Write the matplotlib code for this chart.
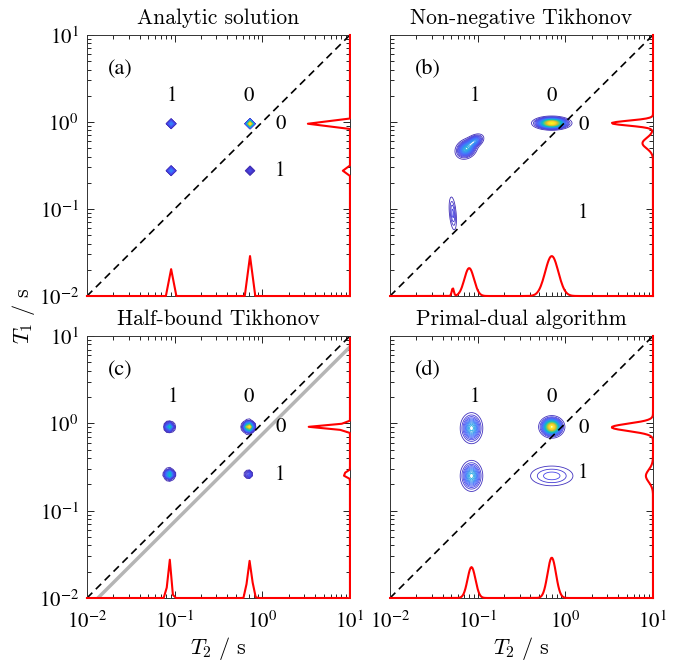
import numpy as np
import matplotlib.pyplot as plt
from matplotlib.colors import LinearSegmentedColormap
from matplotlib.ticker import LogLocator, NullFormatter, FixedLocator

plt.rcParams['mathtext.fontset'] = 'stix'

# approximate MATLAB parula colormap
parula = LinearSegmentedColormap.from_list('parula', [
    (0.2422, 0.1504, 0.6603), (0.2803, 0.2782, 0.9221), (0.2440, 0.4358, 0.9988),
    (0.1540, 0.5902, 0.9218), (0.0297, 0.7082, 0.8163), (0.1938, 0.7758, 0.6251),
    (0.5044, 0.7993, 0.3480), (0.8634, 0.7406, 0.1596), (0.9892, 0.8136, 0.1885),
    (0.9763, 0.9831, 0.0538)])

titles = ['Analytic solution', 'Non-negative Tikhonov',
          'Half-bound Tikhonov', 'Primal-dual algorithm']
tags = ['(a)', '(b)', '(c)', '(d)']

# ---- 2D peaks: T2 centre (s), T1 centre (s), rel. amplitude, widths (decades), tilt (deg)
a_t2 = [0.092, 0.092, 0.72, 0.72]
a_t1 = [0.94, 0.26, 0.94, 0.26]
a_amp = [0.30, 0.30, 1.00, 0.12]

b_t2 = [0.70, 0.074, 0.092, 0.052]
b_t1 = [0.97, 0.49, 0.60, 0.089]
b_amp = [1.00, 0.40, 0.30, 0.11]
b_sx = [0.085, 0.058, 0.052, 0.022]
b_sy = [0.030, 0.046, 0.032, 0.110]
b_tilt = [0, 35, 30, 5]

c_t2 = [0.087, 0.087, 0.70, 0.70]
c_t1 = [0.91, 0.26, 0.91, 0.26]
c_amp = [0.52, 0.56, 1.00, 0.22]
c_sx = [0.024, 0.026, 0.028, 0.020]
c_sy = [0.024, 0.026, 0.028, 0.020]

d_t2 = [0.085, 0.085, 0.70, 0.70]
d_t1 = [0.88, 0.25, 0.91, 0.25]
d_amp = [0.42, 0.42, 1.00, 0.13]
d_sx = [0.058, 0.058, 0.058, 0.150]
d_sy = [0.080, 0.080, 0.050, 0.070]

# ---- marginal projections: centre (s), height (axes fraction), width (decades)
a_bot_c, a_bot_h, a_bot_w = [0.092, 0.72], [0.103, 0.153], [0.0, 0.0]
a_rgt_c, a_rgt_h, a_rgt_w = [0.94, 0.26], [0.160, 0.027], [0.0, 0.0]
b_bot_c, b_bot_h, b_bot_w = [0.052, 0.080, 0.70], [0.030, 0.107, 0.153], [0.012, 0.055, 0.075]
b_rgt_c, b_rgt_h, b_rgt_w = [0.97, 0.57], [0.157, 0.040], [0.028, 0.060]
c_bot_c, c_bot_h, c_bot_w = [0.087, 0.70, 0.76], [0.153, 0.140, 0.060], [0.018, 0.018, 0.018]
c_rgt_c, c_rgt_h, c_rgt_w = [0.91, 0.26], [0.157, 0.030], [0.020, 0.020]
d_bot_c, d_bot_h, d_bot_w = [0.085, 0.70], [0.118, 0.154], [0.045, 0.048]
d_rgt_c, d_rgt_h, d_rgt_w = [0.90, 0.25], [0.157, 0.027], [0.042, 0.070]

# ---- "0"/"1" labels (T2, T1)
a_lab = [('1', 0.092, 2.0), ('0', 0.70, 2.0), ('0', 1.6, 0.94), ('1', 1.6, 0.27)]
b_lab = [('1', 0.093, 2.0), ('0', 0.70, 2.0), ('0', 1.6, 0.92), ('1', 1.6, 0.089)]
c_lab = [('1', 0.095, 2.0), ('0', 0.70, 2.0), ('0', 1.6, 0.91), ('1', 1.6, 0.255)]
d_lab = [('1', 0.093, 2.0), ('0', 0.70, 2.0), ('0', 1.6, 0.89), ('1', 1.6, 0.27)]
tag_x = [0.125, 0.144, 0.128, 0.144]
n_levels = [100, 40, 60, 28]


def field(lg, t2, t1, amp, sx=None, sy=None, tilt=None, coarse=False):
    lx, ly = np.meshgrid(lg, lg)
    z = np.zeros_like(lx)
    n = len(t2)
    sx = sx or [1.0] * n
    sy = sy or [1.0] * n
    tilt = tilt or [0] * n
    for x0, y0, a, wx, wy, th in zip(t2, t1, amp, sx, sy, tilt):
        if coarse:
            # coarse grid: single-node peak
            ix = np.argmin(abs(lg - np.log10(x0)))
            iy = np.argmin(abs(lg - np.log10(y0)))
            z[iy, ix] += a
            continue
        c, s = np.cos(np.radians(th)), np.sin(np.radians(th))
        dx, dy = lx - np.log10(x0), ly - np.log10(y0)
        u, v = dx * c + dy * s, -dx * s + dy * c
        z += a * np.exp(-0.5 * ((u / wx) ** 2 + (v / wy) ** 2))
    return z


def profile(lg, cen, hgt, wid):
    p = np.zeros_like(lg)
    for c0, h, w in zip(cen, hgt, wid):
        if w == 0:
            p[np.argmin(abs(lg - np.log10(c0)))] += h
        else:
            p += h * np.exp(-0.5 * ((lg - np.log10(c0)) / w) ** 2)
    return p


grid_a = np.arange(-2, 1.0001, 0.06)
grid_b = np.arange(-2, 1.0001, 0.01)
grid_c = np.arange(-2, 1.0001, 0.035)
grid_d = np.arange(-2, 1.0001, 0.01)

Z = [field(grid_a, a_t2, a_t1, a_amp, coarse=True),
     field(grid_b, b_t2, b_t1, b_amp, b_sx, b_sy, b_tilt),
     field(grid_c, c_t2, c_t1, c_amp, c_sx, c_sy),
     field(grid_d, d_t2, d_t1, d_amp, d_sx, d_sy)]
grids = [grid_a, grid_b, grid_c, grid_d]
bottoms = [profile(grid_a, a_bot_c, a_bot_h, a_bot_w), profile(grid_b, b_bot_c, b_bot_h, b_bot_w),
           profile(grid_c, c_bot_c, c_bot_h, c_bot_w), profile(grid_d, d_bot_c, d_bot_h, d_bot_w)]
rights = [profile(grid_a, a_rgt_c, a_rgt_h, a_rgt_w), profile(grid_b, b_rgt_c, b_rgt_h, b_rgt_w),
          profile(grid_c, c_rgt_c, c_rgt_h, c_rgt_w), profile(grid_d, d_rgt_c, d_rgt_h, d_rgt_w)]
labels = [a_lab, b_lab, c_lab, d_lab]

fig = plt.figure(figsize=(6.79, 6.64), dpi=100)
pos = [[0.1281, 0.5542, 0.3873, 0.3931], [0.5744, 0.5542, 0.3873, 0.3931],
       [0.1281, 0.0994, 0.3873, 0.3946], [0.5744, 0.0994, 0.3873, 0.3946]]

for i in range(4):
    ax = fig.add_axes(pos[i])
    ax.set_xscale('log')
    ax.set_yscale('log')
    lg = grids[i]
    X, Y = np.meshgrid(10 ** lg, 10 ** lg)
    zmax = Z[i].max()
    levels = np.arange(1, n_levels[i] + 1) * zmax / n_levels[i]
    ax.contour(X, Y, Z[i], levels=levels, cmap=parula, vmin=0, vmax=zmax, linewidths=0.6)

    if i == 2:
        ax.plot([1e-2, 1e1], [0.75e-2, 7.5], color='#b5b5b5', lw=2.5)
    ax.plot([1e-2, 1e1], [1e-2, 1e1], color='k', ls='--', dashes=(4.5, 3), lw=1.2)

    # marginal projections along bottom and right edges
    ax.plot(10 ** lg, 10 ** (-2 + 3 * bottoms[i]), color='#ff0000', lw=1.5, clip_on=False, zorder=5)
    ax.plot(10 ** (1 - 3 * rights[i]), 10 ** lg, color='#ff0000', lw=1.5, clip_on=False, zorder=5)

    for txt, x, y in labels[i]:
        ax.text(x, y, txt, ha='center', va='center', fontsize=15, family='STIXGeneral')
    ax.text(tag_x[i], 0.87, tags[i], transform=ax.transAxes, ha='center', va='center',
            fontsize=16, family='STIXGeneral')

    ax.set_xlim(1e-2, 1e1)
    ax.set_ylim(1e-2, 1e1)
    for axis in (ax.xaxis, ax.yaxis):
        axis.set_major_locator(FixedLocator([1e-2, 1e-1, 1e0, 1e1]))
        axis.set_minor_locator(LogLocator(base=10, subs=np.arange(2, 10), numticks=20))
        axis.set_minor_formatter(NullFormatter())
    ax.set_xticklabels([r'$10^{-2}$', r'$10^{-1}$', r'$10^{0}$', r'$10^{1}$'])
    ax.set_yticklabels([r'$10^{-2}$', r'$10^{-1}$', r'$10^{0}$', r'$10^{1}$'])
    ax.tick_params(which='both', direction='in', top=True, right=True, width=0.6,
                   labelsize=15, colors='k')
    ax.tick_params(which='major', length=5)
    ax.tick_params(which='minor', length=2.8)
    ax.tick_params(axis='x', pad=9)
    ax.tick_params(axis='y', pad=6)
    if i < 2:
        ax.tick_params(labelbottom=False)
    else:
        ax.set_xlabel(r'$T_2\ /\ \mathrm{s}$', fontsize=16, math_fontfamily='cm', labelpad=2)
    if i % 2 == 1:
        ax.tick_params(labelleft=False)
    for sp in ax.spines.values():
        sp.set_linewidth(0.7)
        sp.set_color('#333333')
    ax.set_title(titles[i], family='cmr10', fontsize=15.5, pad=8)

fig.text(0.035, 0.524, r'$T_1\ /\ \mathrm{s}$', rotation=90, ha='center', va='center',
         fontsize=16, math_fontfamily='cm')

fig.savefig('out.png', dpi=100)
